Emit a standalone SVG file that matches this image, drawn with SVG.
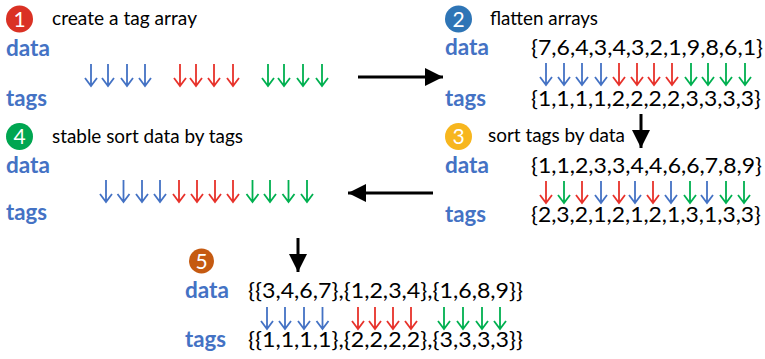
<svg xmlns="http://www.w3.org/2000/svg" xmlns:xlink="http://www.w3.org/1999/xlink" width="765" height="359" viewBox="0 0 765 359">
  <style>
    text { font-family: Lato, "Open Sans", "Liberation Sans", sans-serif; }
    .step { font-size: 18.5px; fill: #000; }
    .lbl { font-size: 22px; font-weight: bold; fill: #4472C4; }
    .arr { font-size: 22px; fill: #000; }
    .num { font-size: 21px; fill: #fff; text-anchor: middle; }
    .b { stroke: #4472C4; }
    .r { stroke: #E7322B; }
    .g { stroke: #00B050; }
    .flow { stroke: #000; stroke-width: 3; fill: none; }
  </style>
  <defs>
    <!-- thin down arrow used for every element mapping -->
    <path id="dn" d="M0,0 V22 M-6,14 L0,22 L6,14" fill="none" stroke-width="1.8" stroke-linejoin="miter"/>
    <marker id="head" viewBox="0 0 10 10" refX="10" refY="5" markerWidth="6" markerHeight="6" markerUnits="strokeWidth" orient="auto">
      <path d="M0,0 L10,5 L0,10 Z" fill="#000"/>
    </marker>
  </defs>

  <!-- step 1: create a tag array -->
  <g id="step1">
    <circle cx="19.5" cy="19" r="13.5" fill="#DA3124"/>
    <text class="num" x="19.5" y="26.5">1</text>
    <text class="step" x="52" y="25" textLength="145" lengthAdjust="spacingAndGlyphs">create a tag array</text>
    <text class="lbl" x="6" y="56" textLength="44" lengthAdjust="spacingAndGlyphs">data</text>
    <text class="lbl" x="6" y="106" textLength="41" lengthAdjust="spacingAndGlyphs">tags</text>
    <g class="b">
      <use xlink:href="#dn" x="91" y="64"/><use xlink:href="#dn" x="108" y="64"/><use xlink:href="#dn" x="127" y="64"/><use xlink:href="#dn" x="145" y="64"/>
    </g>
    <g class="r">
      <use xlink:href="#dn" x="180" y="64"/><use xlink:href="#dn" x="196" y="64"/><use xlink:href="#dn" x="214" y="64"/><use xlink:href="#dn" x="233" y="64"/>
    </g>
    <g class="g">
      <use xlink:href="#dn" x="268" y="64"/><use xlink:href="#dn" x="284" y="64"/><use xlink:href="#dn" x="303" y="64"/><use xlink:href="#dn" x="322" y="64"/>
    </g>
  </g>

  <!-- step 2: flatten arrays -->
  <g id="step2">
    <circle cx="458.5" cy="19" r="13.5" fill="#2E75B6"/>
    <text class="num" x="458.5" y="26.5">2</text>
    <text class="step" x="490" y="25" textLength="108" lengthAdjust="spacingAndGlyphs">flatten arrays</text>
    <text class="lbl" x="445" y="55" textLength="44" lengthAdjust="spacingAndGlyphs">data</text>
    <text class="lbl" x="445" y="106" textLength="41" lengthAdjust="spacingAndGlyphs">tags</text>
    <text class="arr" x="531" y="55" textLength="232" lengthAdjust="spacingAndGlyphs">{7,6,4,3,4,3,2,1,9,8,6,1}</text>
    <text class="arr" x="531" y="106" textLength="230" lengthAdjust="spacingAndGlyphs">{1,1,1,1,2,2,2,2,3,3,3,3}</text>
    <g class="b">
      <use xlink:href="#dn" x="546" y="63"/><use xlink:href="#dn" x="564" y="63"/><use xlink:href="#dn" x="582" y="63"/><use xlink:href="#dn" x="601" y="63"/>
    </g>
    <g class="r">
      <use xlink:href="#dn" x="619" y="63"/><use xlink:href="#dn" x="637" y="63"/><use xlink:href="#dn" x="654" y="63"/><use xlink:href="#dn" x="672" y="63"/>
    </g>
    <g class="g">
      <use xlink:href="#dn" x="691" y="63"/><use xlink:href="#dn" x="708" y="63"/><use xlink:href="#dn" x="726" y="63"/><use xlink:href="#dn" x="745" y="63"/>
    </g>
  </g>

  <!-- step 3: sort tags by data -->
  <g id="step3">
    <circle cx="458.5" cy="136.5" r="13.5" fill="#F7B61E"/>
    <text class="num" x="458.5" y="144">3</text>
    <text class="step" x="488" y="142" textLength="137" lengthAdjust="spacingAndGlyphs">sort tags by data</text>
    <text class="lbl" x="445" y="173" textLength="44" lengthAdjust="spacingAndGlyphs">data</text>
    <text class="lbl" x="445" y="222" textLength="41" lengthAdjust="spacingAndGlyphs">tags</text>
    <text class="arr" x="531" y="173" textLength="231" lengthAdjust="spacingAndGlyphs">{1,1,2,3,3,4,4,6,6,7,8,9}</text>
    <text class="arr" x="531" y="222" textLength="230" lengthAdjust="spacingAndGlyphs">{2,3,2,1,2,1,2,1,3,1,3,3}</text>
    <use class="r" xlink:href="#dn" x="546" y="181"/>
    <use class="g" xlink:href="#dn" x="564" y="181"/>
    <use class="r" xlink:href="#dn" x="582" y="181"/>
    <use class="b" xlink:href="#dn" x="601" y="181"/>
    <use class="r" xlink:href="#dn" x="619" y="181"/>
    <use class="b" xlink:href="#dn" x="635" y="181"/>
    <use class="r" xlink:href="#dn" x="653" y="181"/>
    <use class="b" xlink:href="#dn" x="671" y="181"/>
    <use class="g" xlink:href="#dn" x="690" y="181"/>
    <use class="b" xlink:href="#dn" x="707" y="181"/>
    <use class="g" xlink:href="#dn" x="726" y="181"/>
    <use class="g" xlink:href="#dn" x="744" y="181"/>
  </g>

  <!-- step 4: stable sort data by tags -->
  <g id="step4">
    <circle cx="19.5" cy="136.5" r="13.5" fill="#00A651"/>
    <text class="num" x="19.5" y="144">4</text>
    <text class="step" x="52" y="143" textLength="191" lengthAdjust="spacingAndGlyphs">stable sort data by tags</text>
    <text class="lbl" x="6" y="173" textLength="44" lengthAdjust="spacingAndGlyphs">data</text>
    <text class="lbl" x="6" y="220" textLength="41" lengthAdjust="spacingAndGlyphs">tags</text>
    <g class="b">
      <use xlink:href="#dn" x="106" y="180"/><use xlink:href="#dn" x="123.5" y="180"/><use xlink:href="#dn" x="142" y="180"/><use xlink:href="#dn" x="160" y="180"/>
    </g>
    <g class="r">
      <use xlink:href="#dn" x="179" y="180"/><use xlink:href="#dn" x="197" y="180"/><use xlink:href="#dn" x="215" y="180"/><use xlink:href="#dn" x="233" y="180"/>
    </g>
    <g class="g">
      <use xlink:href="#dn" x="252.5" y="180"/><use xlink:href="#dn" x="270" y="180"/><use xlink:href="#dn" x="288.5" y="180"/><use xlink:href="#dn" x="307" y="180"/>
    </g>
  </g>

  <!-- step 5: split back into segments -->
  <g id="step5">
    <circle cx="201.5" cy="261" r="12.5" fill="#C55A11"/>
    <text class="num" x="201.5" y="268.5">5</text>
    <text class="lbl" x="185" y="298" textLength="44" lengthAdjust="spacingAndGlyphs">data</text>
    <text class="lbl" x="185" y="347" textLength="41" lengthAdjust="spacingAndGlyphs">tags</text>
    <text class="arr" x="248" y="298" textLength="275" lengthAdjust="spacingAndGlyphs">{{3,4,6,7},{1,2,3,4},{1,6,8,9}}</text>
    <text class="arr" x="248" y="347" textLength="275" lengthAdjust="spacingAndGlyphs">{{1,1,1,1},{2,2,2,2},{3,3,3,3}}</text>
    <g class="b">
      <use xlink:href="#dn" x="267" y="307"/><use xlink:href="#dn" x="285" y="307"/><use xlink:href="#dn" x="304" y="307"/><use xlink:href="#dn" x="322.5" y="307"/>
    </g>
    <g class="r">
      <use xlink:href="#dn" x="358" y="307"/><use xlink:href="#dn" x="375" y="307"/><use xlink:href="#dn" x="393" y="307"/><use xlink:href="#dn" x="411" y="307"/>
    </g>
    <g class="g">
      <use xlink:href="#dn" x="444" y="307"/><use xlink:href="#dn" x="463" y="307"/><use xlink:href="#dn" x="482" y="307"/><use xlink:href="#dn" x="500" y="307"/>
    </g>
  </g>

  <!-- flow between steps -->
  <g id="connectors">
    <path class="flow" d="M358,77 H443" marker-end="url(#head)"/>
    <path class="flow" d="M641,114 V148" marker-end="url(#head)"/>
    <path class="flow" d="M433,193 H348" marker-end="url(#head)"/>
    <path class="flow" d="M298,238 V272" marker-end="url(#head)"/>
  </g>
</svg>
